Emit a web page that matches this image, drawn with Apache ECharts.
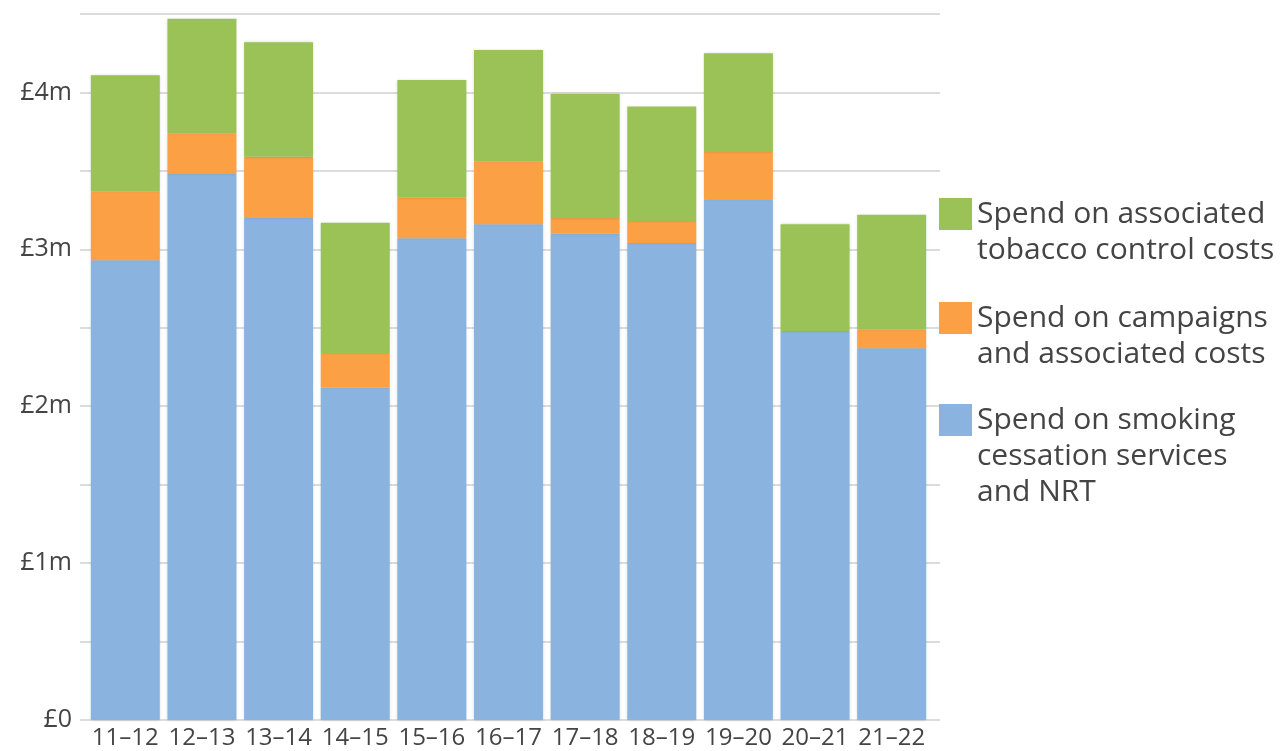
<!DOCTYPE html>
<html>
<head>
<meta charset="utf-8">
<script src="https://cdn.jsdelivr.net/npm/echarts@6/dist/echarts.min.js"></script>
<style>
  html, body { margin: 0; padding: 0; background: #fff; }
  #chart { width: 1283px; height: 751px; }
</style>
</head>
<body>
<div id="chart"></div>
<script>
// years
var years = ['11–12','12–13','13–14','14–15','15–16','16–17','17–18','18–19','19–20','20–21','21–22'];
// £m, bottom to top of each stack
var cessation = [2.93, 3.48, 3.20, 2.12, 3.07, 3.16, 3.10, 3.04, 3.32, 2.48, 2.37];
var campaigns = [0.44, 0.26, 0.39, 0.22, 0.26, 0.40, 0.10, 0.14, 0.30, 0.00, 0.12];
var tobacco   = [0.74, 0.73, 0.73, 0.83, 0.75, 0.71, 0.79, 0.73, 0.63, 0.68, 0.73];
var yTicks = [0, 1, 2, 3, 4];

var names = [
  'Spend on smoking\ncessation services\nand NRT',
  'Spend on campaigns\nand associated costs',
  'Spend on associated\ntobacco control costs'
];
var colors = ['#8ab4df', '#fba044', '#9ac257'];

var myChart = echarts.init(document.getElementById('chart'));

var font = '"Open Sans", Lato, sans-serif';

// first line of the label sits level with the swatch: pad with blank lines above
function legendFor(name, top) {
  var lines = name.split('\n').length;
  return {
    data: [name],
    orient: 'vertical',
    left: 939,
    top: top,
    padding: 0,
    icon: 'rect',
    itemWidth: 33,
    itemHeight: 32,
    selectedMode: false,
    formatter: function (n) {
      return new Array(lines).join('\n') + n;
    },
    textStyle: {
      fontFamily: font,
      fontSize: 30,
      color: '#444',
      lineHeight: 36
    }
  };
}

var barStyle = { shadowBlur: 3, shadowColor: 'rgba(0,0,0,0.18)' };

var option = {
  animation: false,
  color: colors,
  legend: [
    legendFor(names[2], 160),
    legendFor(names[1], 264),
    legendFor(names[0], 330)
  ],
  grid: [
    { left: 80, right: 343, top: 14, bottom: 31 },
    { left: 87, right: 353, top: 14, bottom: 31 }
  ],
  xAxis: [
    {
      type: 'category', gridIndex: 0, data: years, show: false
    },
    {
      type: 'category', gridIndex: 1, data: years,
      axisLine: { show: false },
      axisTick: { show: false },
      axisLabel: { fontFamily: font, fontSize: 24, color: '#444', margin: 6, interval: 0 }
    }
  ],
  yAxis: [
    {
      type: 'value', gridIndex: 0, min: 0, max: 4.5, interval: 0.5,
      axisLine: { show: false },
      axisTick: { show: false },
      splitLine: { lineStyle: { color: '#dcdcdc', width: 2 } },
      axisLabel: {
        fontFamily: font, fontSize: 25, color: '#444', margin: 8,
        formatter: function (v) {
          if (yTicks.indexOf(v) < 0) return '';
          return v === 0 ? '£0' : '£' + v + 'm';
        }
      }
    },
    {
      type: 'value', gridIndex: 1, min: 0, max: 4.5, show: false
    }
  ],
  series: [
    {
      name: names[0], type: 'bar', stack: 'spend', xAxisIndex: 1, yAxisIndex: 1,
      barCategoryGap: '10%', itemStyle: barStyle, data: cessation
    },
    {
      name: names[1], type: 'bar', stack: 'spend', xAxisIndex: 1, yAxisIndex: 1,
      barCategoryGap: '10%', itemStyle: barStyle, data: campaigns
    },
    {
      name: names[2], type: 'bar', stack: 'spend', xAxisIndex: 1, yAxisIndex: 1,
      barCategoryGap: '10%', itemStyle: barStyle, data: tobacco
    }
  ]
};

myChart.setOption(option);
</script>
</body>
</html>
